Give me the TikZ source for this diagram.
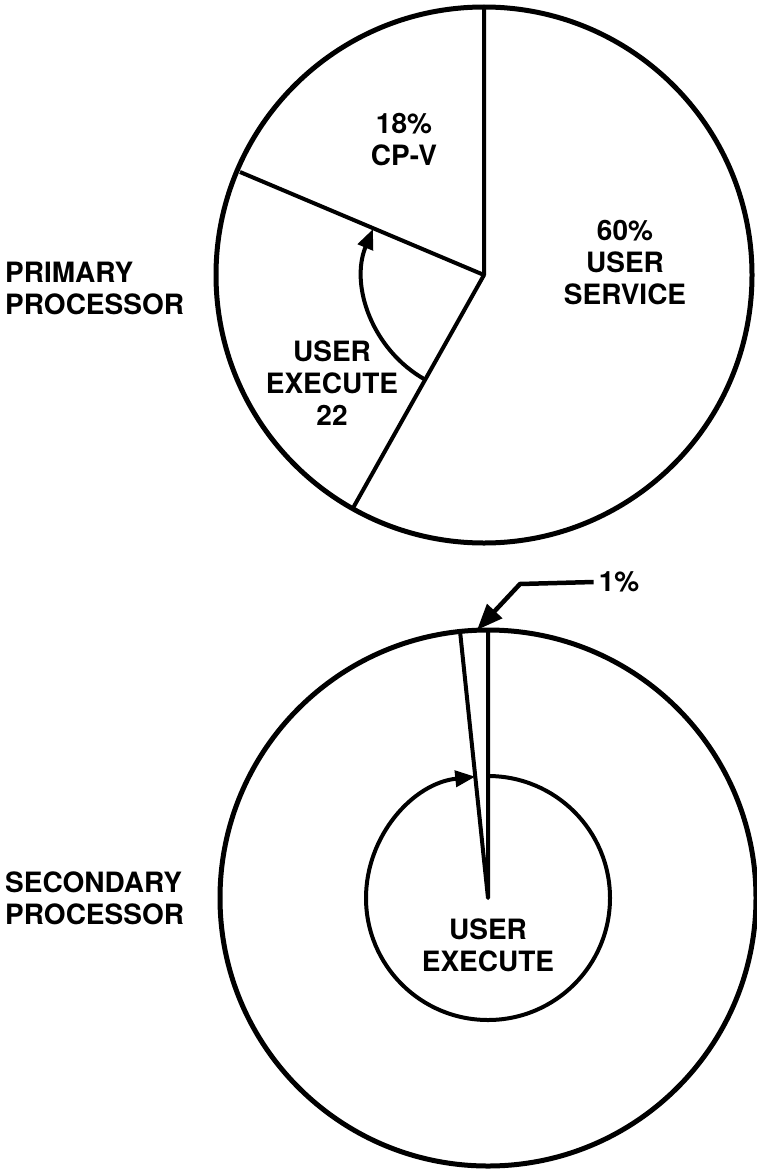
\documentclass[tikz,border=0pt]{standalone}
\usepackage{fontspec}
\setmainfont{TeX Gyre Heros}
\usetikzlibrary{arrows.meta}
\usetikzlibrary{positioning}

\begin{document}
\begin{tikzpicture}[x=1pt,y=1pt,
  every node/.style={font=\bfseries\fontsize{28}{32}\selectfont,align=center,inner sep=0pt},
  rim/.style={line width=5pt},
  spoke/.style={line width=4pt,line join=round},
  pointer/.style={line width=4pt,-{Triangle[length=20pt,width=16pt]}}]
  \useasboundingbox (0,0) rectangle (756,-1172);

  \coordinate (c1) at (484,-275);
  \coordinate (t1) at (484,-7);
  \coordinate (l1) at (240,-172);
  \coordinate (b1) at (353,-508);
  \coordinate (a1) at (424.9,-379.5);

  \coordinate (c2) at (488,-898);
  \coordinate (t2) at (488,-630);
  \coordinate (t3) at (460,-631);
  \coordinate (i1) at (488,-776);
  \coordinate (k) at (520,-584);
  \coordinate (tip) at (477,-630);

  \node[anchor=west,align=left] (prim) at (5,-288) {PRIMARY\\PROCESSOR};
  \node (cpv) at (404,-140) {18\%\\CP-V};
  \node (serv) at (625,-263) {60\%\\USER\\SERVICE};
  \node (uexe) at (332,-383) {USER\\EXECUTE\\22};

  \node[anchor=west,align=left] (sec) at (5,-898) {SECONDARY\\PROCESSOR};
  \node (uexe2) at (488,-945) {USER\\EXECUTE};
  \node (pct) at (619,-582) {1\%};

  \draw[rim] (c1) circle[radius=268];
  \draw[spoke] (t1)--(c1)--(l1);
  \draw[spoke] (c1)--(b1);
  \draw[pointer] (a1) arc[start angle=240.6,end angle=157.5,radius=120];

  \draw[rim] (c2) circle[radius=268];
  \draw[spoke] (t3)--(c2)--(t2);
  \draw[pointer] (i1) arc[start angle=90,end angle=-264,radius=122];
  \draw[pointer,line width=4.5pt,-{Triangle[length=26pt,width=20pt]}] ([xshift=-5pt]pct.west)--(k)--(tip);
\end{tikzpicture}
\end{document}
